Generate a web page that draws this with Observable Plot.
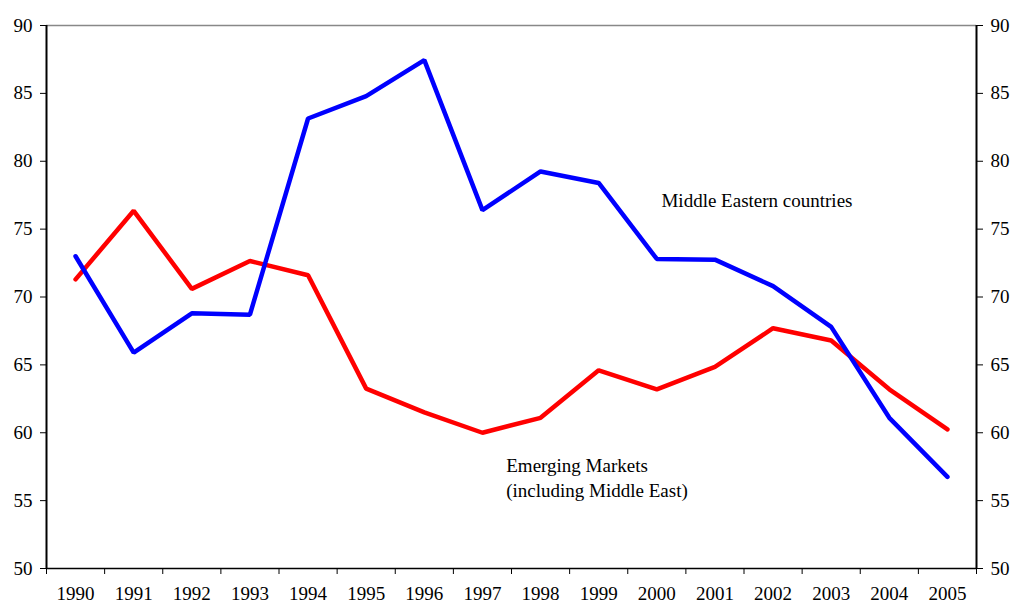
<!DOCTYPE html>
<html><head><meta charset="utf-8">
<script src="https://cdn.jsdelivr.net/npm/d3@7"></script>
<script src="https://cdn.jsdelivr.net/npm/@observablehq/plot@0.6"></script>
<style>body{margin:0;background:#fff;}</style>
</head><body><div id="chart"></div>
<script>
const years = [1990,1991,1992,1993,1994,1995,1996,1997,1998,1999,2000,2001,2002,2003,2004,2005];
const middleEast = [73.0,65.9,68.8,68.7,83.15,84.8,87.45,76.4,79.25,78.4,72.8,72.75,70.8,67.8,61.1,56.75];
const emerging = [71.3,76.35,70.6,72.65,71.6,63.25,61.5,60.0,61.1,64.6,63.2,64.85,67.7,66.8,63.2,60.25];
const yTicks = [50,55,60,65,70,75,80,85,90];
const xEdges = [1989.5,1990.5,1991.5,1992.5,1993.5,1994.5,1995.5,1996.5,1997.5,1998.5,1999.5,2000.5,2001.5,2002.5,2003.5,2004.5,2005.5];
const labelTexts = ["Middle Eastern countries", "Emerging Markets\n(including Middle East)"];
const labelX = [2000.08, 1997.41];
const labelY = [77.2, 56.8];

const meData = years.map((y,i)=>({year:y, value:middleEast[i]}));
const emData = years.map((y,i)=>({year:y, value:emerging[i]}));
const labels = labelTexts.map((t,i)=>({text:t, x:labelX[i], y:labelY[i]}));
const font = "'Liberation Serif', 'Times New Roman', serif";
const fs = 19;

const chart = Plot.plot({
  width: 1011, height: 604,
  marginLeft: 46, marginRight: 35, marginTop: 25, marginBottom: 36,
  style: {fontFamily: font, fontSize: fs + "px", color: "black", background: "white"},
  x: {type: "linear", domain: [xEdges[0], xEdges[xEdges.length-1]], axis: null},
  y: {domain: [yTicks[0], yTicks[yTicks.length-1]], axis: null},
  marks: [
    Plot.axisX({ticks: years, tickSize: 0, tickPadding: 18, tickFormat: d => String(d), fontSize: fs, fontFamily: font}),
    Plot.axisX({ticks: xEdges, tickSize: 6, tickFormat: () => "", stroke: "black"}),
    Plot.axisY({anchor: "left", ticks: yTicks, tickSize: 6, tickPadding: 8, fontSize: fs, fontFamily: font}),
    Plot.axisY({anchor: "right", ticks: yTicks, tickSize: 6, tickPadding: 8, fontSize: fs, fontFamily: font}),
    Plot.ruleY([yTicks[yTicks.length-1]], {stroke: "#888", strokeWidth: 1.5}),
    Plot.ruleY([yTicks[0]], {stroke: "black", strokeWidth: 1.5}),
    Plot.ruleX([xEdges[0], xEdges[xEdges.length-1]], {stroke: "black", strokeWidth: 2}),
    Plot.line(emData, {x: "year", y: "value", stroke: "#ff0000", strokeWidth: 4.5, strokeLinejoin: "miter", strokeLinecap: "round"}),
    Plot.line(meData, {x: "year", y: "value", stroke: "#0000ff", strokeWidth: 4.5, strokeLinejoin: "miter", strokeLinecap: "round"}),
    Plot.text(labels, {x: "x", y: "y", text: "text", textAnchor: "start", lineAnchor: "middle", lineHeight: 1.32, fontSize: fs, fontFamily: font, fill: "black"})
  ]
});
document.getElementById("chart").appendChild(chart);
</script>
</body></html>
